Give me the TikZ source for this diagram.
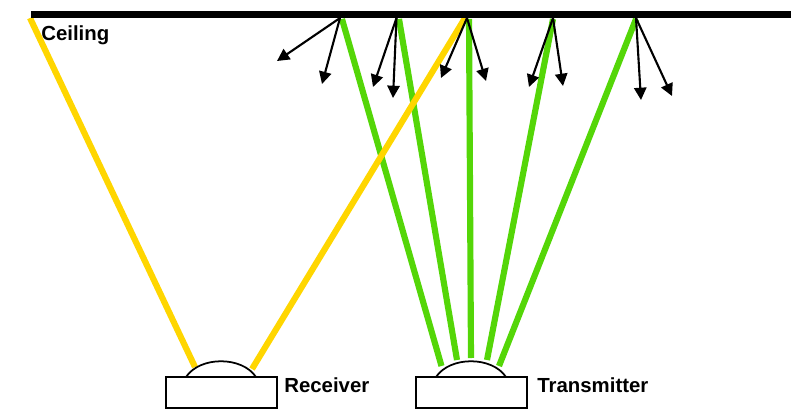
\documentclass[tikz,border=0pt]{standalone}
\usepackage{fontspec}
\setmainfont{Liberation Sans}
\usepackage{tikz}
\usetikzlibrary{arrows.meta}

\begin{document}
\begin{tikzpicture}[x=0.02cm,y=-0.02cm,
	ray/.style={line width=3.5pt},
	green ray/.style={ray, draw={rgb,255:red,84;green,214;blue,8}},
	yellow ray/.style={ray, draw={rgb,255:red,255;green,214;blue,0}},
	scatter/.style={line width=1.2pt, -{Triangle[length=7pt,width=7pt]}},
	box/.style={draw, line width=1pt, minimum width=2.22cm, minimum height=0.62cm, inner sep=0pt, outer sep=0pt},
	name text/.style={font=\bfseries\fontsize{11.6}{13}\selectfont, anchor=west, inner sep=0pt}]
	\useasboundingbox (0,0) rectangle (791,409);

	\coordinate (ceilL) at (31,14.5);
	\coordinate (ceilR) at (791,14.5);

	% led packages
	\node[box] (receiver) at (221.5,392.5) {};
	\node[box] (transmitter) at (471.5,392.5) {};
	\node[name text] (receiverText) at (284,385) {Receiver};
	\node[name text] (transmitterText) at (537,385) {Transmitter};
	\node[name text] (ceilingText) at (41,35) {Ceiling};

	% points on the ceiling
	\coordinate (y1) at (30,18);
	\coordinate (y2) at (465,18);
	\coordinate (g1) at (342,19);
	\coordinate (g2) at (399,19);
	\coordinate (g3) at (469,19);
	\coordinate (g4) at (553,19);
	\coordinate (g5) at (636,19);
	\coordinate (s1) at (340,18);
	\coordinate (s2) at (396.5,18);
	\coordinate (s3) at (467,18);
	\coordinate (s4) at (553,18);
	\coordinate (s5) at (636,18);

	% points on the domes
	\coordinate (ry1) at (195,367);
	\coordinate (ry2) at (252,369);
	\coordinate (t1) at (441.5,366);
	\coordinate (t2) at (457,360);
	\coordinate (t3) at (471,358);
	\coordinate (t4) at (487,360);
	\coordinate (t5) at (499,366);

	% scattered ends
	\coordinate (e1) at (277,61);
	\coordinate (e2) at (322,84);
	\coordinate (e3) at (373,87);
	\coordinate (e4) at (393,98);
	\coordinate (e5) at (441,78);
	\coordinate (e6) at (486,81);
	\coordinate (e7) at (529,87);
	\coordinate (e8) at (563,86);
	\coordinate (e9) at (641,100);
	\coordinate (e10) at (672,96);

	\draw[green ray] (g1) -- (t1);
	\draw[green ray] (g2) -- (t2);
	\draw[green ray] (g3) -- (t3);
	\draw[green ray] (g4) -- (t4);
	\draw[green ray] (g5) -- (t5);

	\draw[yellow ray] (y1) -- (ry1);
	\draw[yellow ray] (y2) -- (ry2);

	\draw[line width=4pt] (ceilL) -- (ceilR);

	\draw[scatter] (s1) -- (e1);
	\draw[scatter] (s1) -- (e2);
	\draw[scatter] (s2) -- (e3);
	\draw[scatter] (s2) -- (e4);
	\draw[scatter] (s3) -- (e5);
	\draw[scatter] (s3) -- (e6);
	\draw[scatter] (s4) -- (e7);
	\draw[scatter] (s4) -- (e8);
	\draw[scatter] (s5) -- (e9);
	\draw[scatter] (s5) -- (e10);

	\draw[line width=1pt] (186,377) .. controls (200,356) and (242,356) .. (256,377);
	\draw[line width=1pt] (436,377) .. controls (450,356) and (492,356) .. (506,377);
\end{tikzpicture}
\end{document}
